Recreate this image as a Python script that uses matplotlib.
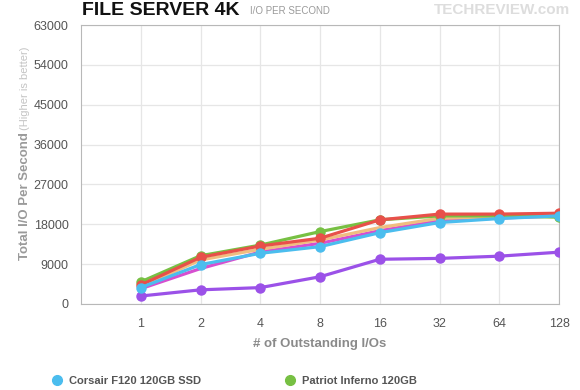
import matplotlib.pyplot as plt

plt.rcParams['font.family'] = ['Liberation Sans', 'DejaVu Sans']

queue_depths = ['1', '2', '4', '8', '16', '32', '64', '128']

corsair = [3700, 8900, 11450, 12950, 16100, 18400, 19300, 19900]
patriot = [5000, 10900, 13300, 16350, 19000, 19900, 19900, 19600]
red_drive = [4300, 10550, 13100, 14850, 19000, 20300, 20300, 20500]
tan_drive = [3900, 9950, 12350, 14450, 17250, 19350, 19700, 20000]
magenta_drive = [3450, 8000, 11750, 13700, 16550, 18800, 19400, 19900]
purple_drive = [1800, 3200, 3700, 6150, 10100, 10300, 10800, 11700]

x = list(range(1, len(queue_depths) + 1))

fig = plt.figure(figsize=(5.8, 3.9), dpi=100)
ax = fig.add_axes([81 / 580, 1 - 304 / 390, 478 / 580, 279 / 390])

lw = 2.3
ax.plot(x, purple_drive, color='#9b51e8', lw=lw, marker='o', ms=6.5, zorder=3)
ax.plot(x, magenta_drive, color='#d64fd0', lw=lw, zorder=3)
ax.plot(x, tan_drive, color='#f0bd80', lw=lw, zorder=3)
ax.plot(x, patriot, color='#77c043', lw=lw, marker='o', ms=6.5, zorder=3, label='Patriot Inferno 120GB')
ax.plot(x, red_drive, color='#e8504a', lw=lw, marker='o', ms=6.5, zorder=3)
ax.plot(x, corsair, color='#4bbdee', lw=lw, marker='o', ms=6.5, zorder=3, label='Corsair F120 120GB SSD')

ax.set_xlim(0, 8)
ax.set_ylim(0, 63000)
ax.set_xticks(x)
ax.set_xticklabels(queue_depths)
ax.set_yticks(range(0, 63001, 9000))
ax.grid(True, color='#e6e6e6', lw=0.9)
ax.set_axisbelow(True)
for s in ax.spines.values():
    s.set_color('#b8b8b8')
ax.tick_params(length=0, labelsize=9, colors='#555555', pad=9)
ax.tick_params(axis='x', pad=10)

ax.set_xlabel('# of Outstanding I/Os', fontsize=9.5, color='#8a8a8a', fontweight='bold', labelpad=6)

fig.text(25 / 580, 1 - 196 / 390, 'Total I/O Per Second', rotation=90, ha='center', va='center',
         fontsize=9.5, color='#9a9a9a', fontweight='bold')
fig.text(25 / 580, 1 - 88 / 390, '(Higher is better)', rotation=90, ha='center', va='center',
         fontsize=8, color='#c4c4c4')

fig.text(82 / 580, 1 - 15 / 390, 'FILE SERVER 4K', fontsize=14, fontweight='bold', color='#111111',
         va='baseline', ha='left')
fig.text(250 / 580, 1 - 14 / 390, 'I/O PER SECOND', fontsize=7, color='#9a9a9a', va='baseline', ha='left')
fig.text(570 / 580, 1 - 14 / 390, 'TECHREVIEW.com', fontsize=11, fontweight='bold', color='#dddddd',
         va='baseline', ha='right')

handles, labels = ax.get_legend_handles_labels()
order = [1, 0]
leg = fig.legend([plt.Line2D([], [], ls='', marker='o', ms=7, color=handles[i].get_color()) for i in order],
                 [labels[i] for i in order], loc='upper left', bbox_to_anchor=(41 / 580, 1 - 366 / 390),
                 ncol=2, frameon=False, fontsize=8, handletextpad=0.6, columnspacing=7.5, handlelength=1)
for t in leg.get_texts():
    t.set_color('#555555')
    t.set_fontweight('bold')

fig.savefig('out.png', dpi=100)
